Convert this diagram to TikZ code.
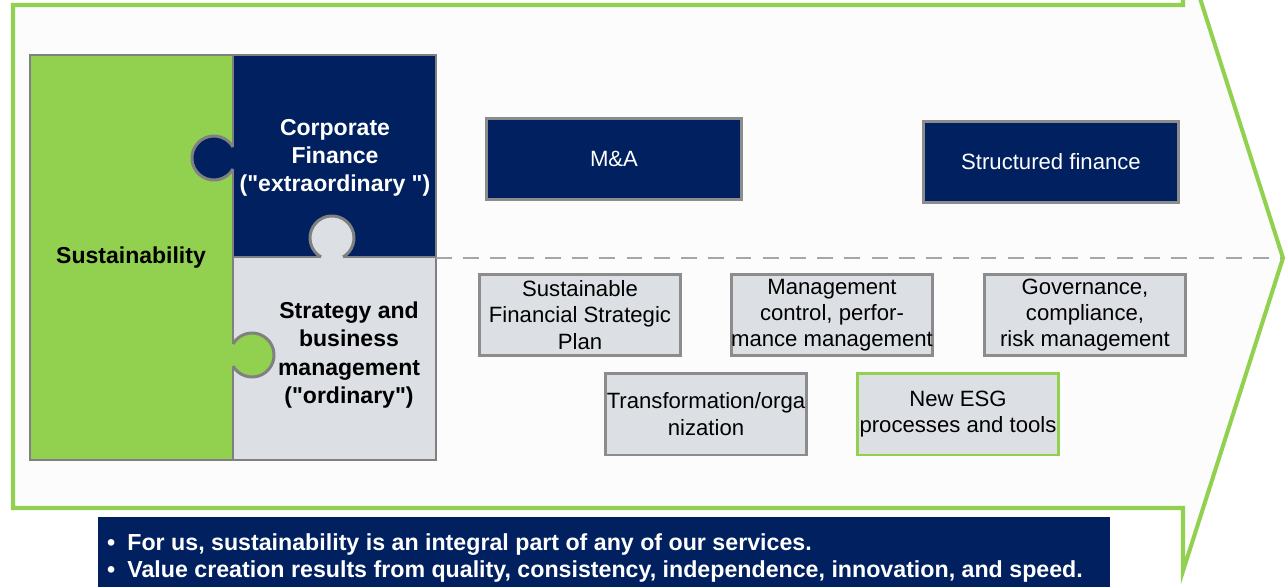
\documentclass[tikz,border=0pt]{standalone}
\usepackage{fontspec}
\setmainfont{Liberation Sans}
\definecolor{leafgreen}{HTML}{92D050}
\definecolor{navy}{HTML}{002060}
\definecolor{paleslate}{HTML}{DCDFE4}
\definecolor{edgegrey}{HTML}{808080}
\definecolor{boxgrey}{HTML}{8C8C8C}
\definecolor{dashgrey}{HTML}{A6A6A6}
\begin{document}
\begin{tikzpicture}[x=0.02cm,y=0.02cm,
	piece/.style={draw=edgegrey,line width=1.7pt},
	piecetext/.style={align=center,font=\fontsize{13.1}{16.1}\selectfont\bfseries},
	box/.style={draw=boxgrey,line width=1.7pt,align=center,inner sep=0pt,
		minimum width=4.04cm,minimum height=1.64cm,font=\fontsize{12.6}{14.9}\selectfont},
	greybox/.style={box,fill=paleslate},
	navybox/.style={box,fill=navy,text=white,minimum width=5.1cm,minimum height=1.63cm}]
	\useasboundingbox (0,0) rectangle (1286,586);
	\clip (0,0) rectangle (1286,586);
	
	\draw[fill=black!1,draw=leafgreen,line width=2.3pt] (13,78) -- (13,581) -- (1183,581) -- (1183,641) -- (1283,328) -- (1183,15) -- (1183,78) -- cycle;
	\coordinate (tip) at (1281,328);
	
	\fill[leafgreen] (30,126) rectangle (233,531);
	\fill[navy] (233,329) rectangle (436,531);
	\fill[paleslate] (233,126) rectangle (436,329);
	\draw[piece] (233,126) -- (233,531);
	\draw[piece] (233,329) -- (436,329);
	
	\fill[navy] (236,417) -- (233,417) arc[start angle=-30,end angle=-330,radius=22] -- (236,439) -- cycle;
	\draw[piece] (233,417) arc[start angle=-30,end angle=-330,radius=22];
	\fill[leafgreen] (230,242) -- (233,242) arc[start angle=150,end angle=-150,radius=22] -- (230,220) -- cycle;
	\draw[piece] (233,242) arc[start angle=150,end angle=-150,radius=22];
	\fill[paleslate] (321,326) -- (321,329) arc[start angle=240,end angle=-60,radius=22] -- (343,326) -- cycle;
	\draw[piece] (321,329) arc[start angle=240,end angle=-60,radius=22];
	
	\draw[piece] (30,126) rectangle (436,531);
	\coordinate (cut) at (436,328);
	\draw[dashgrey,line width=1.7pt,dash pattern=on 9pt off 6.5pt] (cut) -- (tip);
	
	\node[piecetext] (sust) at (131,328) {Sustainability};
	\node[piecetext,text=white] (corp) at (335,428) {Corporate\\Finance\\(\textquotedbl extraordinary \textquotedbl)};
	\node[piecetext] (strat) at (349,231) {Strategy and\\business\\management\\(\textquotedbl ordinary\textquotedbl)};
	
	\node[navybox] (ma) at (614,427) {M\&A};
	\node[navybox] (struct) at (1051,424) {Structured finance};
	
	\node[greybox] (plan) at (580,271) {Sustainable\\Financial Strategic\\Plan};
	\node[greybox] (control) at (832,271) {Management\\control, perfor-\\mance management};
	\node[greybox] (gov) at (1085,271) {Governance,\\compliance,\\risk management};
	\node[greybox] (trans) at (706,172) {Transformation/orga\\nization};
	\node[greybox,draw=leafgreen] (esg) at (958,172) {New ESG\\processes and tools};
	
	\fill[navy] (98,-5) rectangle (1110,69);
	\node[anchor=west,text=white,align=left,font=\fontsize{13.2}{15.9}\selectfont\bfseries] (facts) at (101,28) {\makebox[11.5pt][l]{\textbullet}For us, sustainability is an integral part of any of our services.\\\makebox[11.5pt][l]{\textbullet}Value creation results from quality, consistency, independence, innovation, and speed.};
\end{tikzpicture}
\end{document}
